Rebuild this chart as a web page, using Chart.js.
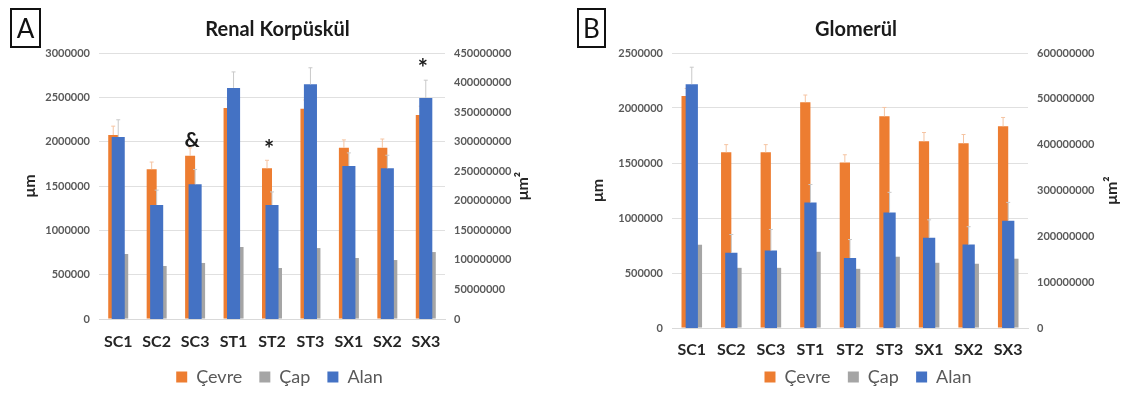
<!DOCTYPE html>
<html lang="tr">
<head>
<meta charset="utf-8">
<title>Renal Korpüskül / Glomerül</title>
<script src="https://cdn.jsdelivr.net/npm/chart.js"></script>
<style>
  body { margin: 0; background: #fff; width: 1136px; height: 394px; position: relative; overflow: hidden; font-family: Lato, sans-serif; }
  .panel { position: absolute; top: 0; height: 400px; }
  .tag { position: absolute; top: 8px; height: 40px; border: 2px solid #111; box-sizing: border-box; font: 26px Lato, sans-serif; line-height: 36px; text-align: center; color: #111; }
</style>
</head>
<body>
<div class="panel" style="left:0;width:560px"><canvas id="chartA"></canvas></div>
<div class="panel" style="left:570px;width:566px"><canvas id="chartB"></canvas></div>
<div class="tag" style="left:10px;width:31px">A</div>
<div class="tag" style="left:577px;width:29px">B</div>
<script>
const categories = ['SC1', 'SC2', 'SC3', 'ST1', 'ST2', 'ST3', 'SX1', 'SX2', 'SX3'];
const seriesNames = ['Çevre', 'Çap', 'Alan'];

// A - Renal Korpüskül
const renalCevre = [2075000, 1690000, 1840000, 2380000, 1700000, 2370000, 1930000, 1930000, 2300000];
const renalCevreErr = [100000, 80000, 90000, 100000, 90000, 100000, 90000, 100000, 100000];
const renalCap = [733000, 598000, 632000, 812000, 575000, 800000, 688000, 665000, 755000];
const renalAlan = [308000000, 193000000, 228000000, 391000000, 193000000, 397000000, 259000000, 255000000, 374000000];
const renalAlanErr = [29000000, 25000000, 25000000, 27000000, 22000000, 28000000, 22000000, 22000000, 30000000];
const renalLeftTicks = ['0', '500000', '1000000', '1500000', '2000000', '2500000', '3000000'];
const renalRightTicks = ['0', '50000000', '100000000', '150000000', '200000000', '250000000', '300000000', '350000000', '400000000', '450000000'];
const renalMarks = ['&', '*', '*'];
const renalMarkIndex = [2, 4, 8];
const renalMarkValue = [2020000, 1900000, 2820000];

// B - Glomerül
const glomCevre = [2108000, 1597000, 1597000, 2053000, 1505000, 1925000, 1697000, 1679000, 1834000];
const glomCevreErr = [70000, 70000, 70000, 65000, 70000, 80000, 80000, 80000, 80000];
const glomCap = [757000, 547000, 547000, 693000, 538000, 648000, 593000, 584000, 630000];
const glomAlan = [532000000, 164000000, 169000000, 274000000, 153000000, 252000000, 197000000, 182000000, 234000000];
const glomAlanErr = [37000000, 40000000, 46000000, 39000000, 40000000, 44000000, 39000000, 39000000, 40000000];
const glomLeftTicks = ['0', '500000', '1000000', '1500000', '2000000', '2500000'];
const glomRightTicks = ['0', '100000000', '200000000', '300000000', '400000000', '500000000', '600000000'];

const ORANGE = '#ED7D31', GRAY = '#A5A5A5', BLUE = '#4472C4';
const FONT = 'Lato, sans-serif';

// thin error bars drawn right after each dataset
const errorBars = {
  id: 'errorBars',
  afterDatasetDraw(chart, args) {
    const ds = chart.data.datasets[args.index];
    if (!ds.errors) return;
    const scale = chart.scales[args.meta.yAxisID];
    const ctx = chart.ctx;
    ctx.save();
    ctx.strokeStyle = ds.errorColor;
    ctx.lineWidth = 1;
    args.meta.data.forEach((bar, i) => {
      const top = scale.getPixelForValue(ds.data[i] + ds.errors[i]);
      ctx.beginPath();
      ctx.moveTo(bar.x, bar.y);
      ctx.lineTo(bar.x, top);
      ctx.moveTo(bar.x - 2, top);
      ctx.lineTo(bar.x + 2, top);
      ctx.stroke();
    });
    ctx.restore();
  }
};

// significance marks above the groups
const marks = {
  id: 'marks',
  afterDatasetsDraw(chart, args, opts) {
    if (!opts.text) return;
    const ctx = chart.ctx;
    const bars = chart.getDatasetMeta(0).data;
    ctx.save();
    ctx.fillStyle = '#1a1a1a';
    ctx.textAlign = 'center';
    ctx.textBaseline = 'middle';
    opts.text.forEach((t, k) => {
      ctx.font = t === '&' ? 'bold 21px ' + FONT : 'bold 24px ' + FONT;
      ctx.fillText(t, bars[opts.index[k]].x + 2, chart.scales.y.getPixelForValue(opts.value[k]));
    });
    ctx.restore();
  }
};

// right axis title, reading bottom to top like the left one
const rightTitle = {
  id: 'rightTitle',
  afterDraw(chart, args, opts) {
    const s = chart.scales.y1, ctx = chart.ctx;
    ctx.save();
    ctx.translate(s.right - 12, (chart.chartArea.top + chart.chartArea.bottom) / 2);
    ctx.rotate(-Math.PI / 2);
    ctx.font = 'bold 16px ' + FONT;
    ctx.fillStyle = '#262626';
    ctx.textAlign = 'center';
    ctx.textBaseline = 'middle';
    ctx.fillText(opts.text, 0, 0);
    ctx.restore();
  }
};

// nudge the legend sideways after layout
const legendShift = {
  id: 'legendShift',
  afterLayout(chart, args, opts) {
    if (!opts.dx || !chart.legend) return;
    chart.legend.left += opts.dx;
    chart.legend.right += opts.dx;
  }
};

function makeChart(id, p) {
  // legend labels, with a little extra room after all but the last one
  const legendLabels = seriesNames.map((name, i) => i < seriesNames.length - 1 ? name + p.legendGap : name);
  return new Chart(document.getElementById(id), {
    type: 'bar',
    data: {
      labels: categories,
      datasets: [
        { label: legendLabels[0], data: p.cevre, errors: p.cevreErr, errorColor: '#f5c4a2',
          backgroundColor: ORANGE, yAxisID: 'y', order: 1,
          categoryPercentage: 0.52, barPercentage: 1 },
        { label: legendLabels[1], data: p.cap,
          backgroundColor: GRAY, yAxisID: 'y', order: 1,
          categoryPercentage: 0.52, barPercentage: 1 },
        // Alan sits on the secondary axis, centred over the pair
        { label: legendLabels[2], data: p.alan, errors: p.alanErr, errorColor: '#c9c9c9',
          backgroundColor: BLUE, yAxisID: 'y1', order: 0, grouped: false,
          categoryPercentage: p.alanWidth, barPercentage: 1 }
      ]
    },
    options: {
      responsive: true,
      maintainAspectRatio: false,
      animation: false,
      layout: { padding: { left: p.padLeft, right: p.padRight, top: 0, bottom: 4 } },
      scales: {
        x: {
          afterFit: s => { s.height = 32; },
          grid: { display: false, drawTicks: false },
          border: { color: '#d9d9d9' },
          ticks: { color: '#262626', padding: p.xPad, font: { family: FONT, size: 16, weight: 'bold' } }
        },
        y: {
          min: 0, max: p.leftMax, afterFit: s => { s.width = p.leftWidth; },
          grid: { color: '#e0e0e0', drawTicks: false },
          border: { display: false },
          ticks: { stepSize: p.leftStep, padding: 9, color: '#595959',
            font: { family: FONT, size: 11, weight: 'bold' },
            callback: (v, i) => p.leftTicks[i] },
          title: { display: true, text: 'μm', color: '#262626', padding: { top: 0, bottom: 0 },
            font: { family: FONT, size: 16, weight: 'bold' } }
        },
        y1: {
          position: 'right', min: 0, max: p.rightMax, afterFit: s => { s.width = p.rightWidth; },
          grid: { display: false, drawTicks: false },
          border: { display: false },
          ticks: { stepSize: p.rightStep, padding: 9, color: '#595959',
            font: { family: FONT, size: 11, weight: 'bold' },
            callback: (v, i) => p.rightTicks[i] }
        }
      },
      plugins: {
        title: { display: true, text: p.title, color: '#1a1a1a',
          font: { family: FONT, size: 20, weight: 'bold' }, padding: { top: 18, bottom: 11 } },
        legend: {
          position: 'bottom',
          labels: { color: '#595959', boxWidth: 11, boxHeight: 11, padding: p.legendPad,
            font: { family: FONT, size: 18 },
            sort: (a, b) => a.datasetIndex - b.datasetIndex }
        },
        tooltip: { enabled: false },
        marks: p.marks || {},
        rightTitle: { text: 'μm²' },
        legendShift: { dx: p.legendDx }
      }
    },
    plugins: [errorBars, marks, rightTitle, legendShift]
  });
}

makeChart('chartA', {
  title: 'Renal Korpüskül',
  cevre: renalCevre, cevreErr: renalCevreErr, cap: renalCap, alan: renalAlan, alanErr: renalAlanErr,
  alanWidth: 0.34,
  leftMax: 3000000, leftStep: 500000, leftTicks: renalLeftTicks,
  rightMax: 450000000, rightStep: 50000000, rightTicks: renalRightTicks,
  padLeft: 20, padRight: 25, leftWidth: 79, rightWidth: 90, xPad: 13, legendPad: 17, legendGap: '', legendDx: 2,
  marks: { text: renalMarks, index: renalMarkIndex, value: renalMarkValue }
});

makeChart('chartB', {
  title: 'Glomerül',
  cevre: glomCevre, cevreErr: glomCevreErr, cap: glomCap, alan: glomAlan, alanErr: glomAlanErr,
  alanWidth: 0.31,
  leftMax: 2500000, leftStep: 500000, leftTicks: glomLeftTicks,
  rightMax: 600000000, rightStep: 100000000, rightTicks: glomRightTicks,
  padLeft: 18, padRight: 12, leftWidth: 84, rightWidth: 96, xPad: 12, legendPad: 8, legendGap: '\u00A0\u00A0', legendDx: 12
});
</script>
</body>
</html>
